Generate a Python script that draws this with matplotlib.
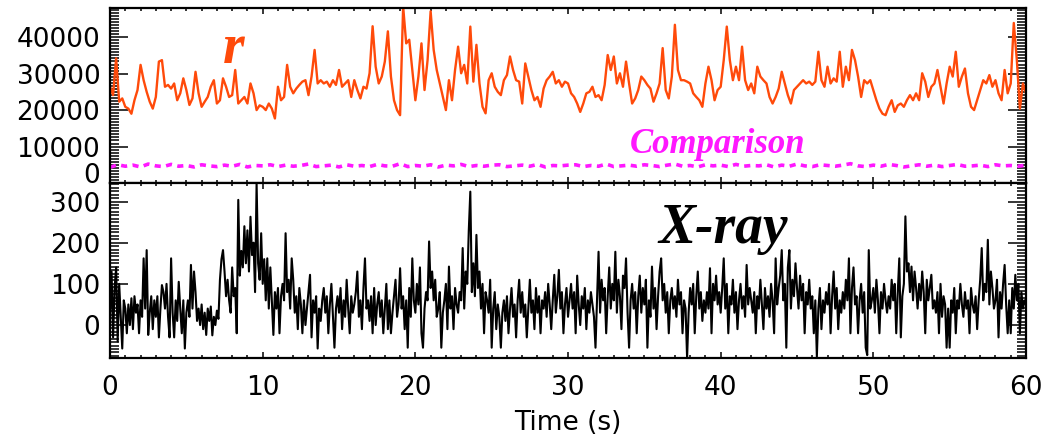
import numpy as np
import matplotlib
matplotlib.use("Agg")
import matplotlib.pyplot as plt
from matplotlib.ticker import MultipleLocator, FixedLocator

# ---------------------------------------------------------------
# Light curves, 0 - 60 s
# ---------------------------------------------------------------
# r-band count rate, one sample every 0.2 s
r_rate = [
    26400, 24100, 34200, 22300, 23200,
    20900, 20400, 19000, 22700, 25500,
    32400, 28200, 25000, 22300, 20400,
    23600, 33300, 33700, 26400, 26900,
    25900, 27300, 22700, 24600, 28700,
    25500, 21400, 23200, 30500, 24600,
    20900, 22300, 23600, 26400, 28200,
    21800, 22700, 28700, 26400, 23600,
    24100, 31000, 21800, 22700, 23600,
    21800, 27300, 24600, 20000, 21300,
    20900, 20000, 21800, 20400, 17700,
    26400, 22700, 23600, 32400, 26400,
    24600, 25900, 26900, 27800, 28200,
    24100, 29200, 36500, 27300, 28200,
    27300, 27800, 26400, 28200, 26900,
    31000, 26400, 27300, 28200, 23600,
    28200, 25500, 23200, 26400, 25900,
    30100, 43000, 31900, 27300, 29200,
    33300, 41600, 29200, 22700, 20000,
    18600, 48400, 38300, 39300, 31000,
    22700, 29200, 38300, 25500, 33700,
    47100, 36500, 31000, 27300, 23600,
    20000, 28200, 22700, 31000, 37400,
    30100, 32400, 27300, 42900, 27800,
    37900, 27300, 20900, 19100, 28200,
    30100, 26400, 25000, 24100, 28200,
    29600, 34700, 31000, 28200, 27800,
    21800, 32800, 29200, 25500, 22700,
    23600, 20900, 25900, 28200, 29200,
    30500, 27300, 28200, 26400, 27800,
    27300, 24600, 23600, 21800, 19500,
    21800, 24600, 25000, 26400, 23600,
    24100, 22700, 26900, 35100, 31000,
    34700, 27300, 30100, 26400, 33300,
    27300, 21800, 23200, 25500, 29200,
    28200, 26900, 25900, 22300, 24600,
    27300, 37000, 25500, 23200, 29200,
    43400, 31000, 28200, 28200, 27800,
    27300, 24600, 23600, 22700, 20900,
    27300, 31900, 28200, 22700, 25500,
    26400, 33700, 42900, 33700, 28200,
    31900, 28200, 37400, 28200, 25500,
    27300, 24600, 31900, 29200, 28200,
    27300, 23600, 21800, 23600, 25900,
    30500, 27300, 24100, 21800, 25500,
    26400, 27300, 28200, 27300, 27800,
    26900, 27800, 36000, 28200, 26400,
    31900, 27300, 28700, 27800, 36000,
    26400, 31900, 28200, 36500, 33700,
    29200, 23600, 28200, 27300, 28200,
    25500, 22700, 20400, 19000, 18600,
    20900, 22700, 19500, 21300, 21800,
    20900, 22700, 24100, 22700, 24600,
    22700, 30100, 27800, 23600, 26400,
    27300, 31000, 26400, 21800, 27300,
    31900, 29200, 36000, 26400, 29200,
    31400, 24600, 20900, 20000, 22700,
    25500, 28200, 27300, 29600, 26400,
    28200, 24600, 22700, 31000, 24600,
    27300, 43900, 33700, 20400, 27300,
    24600,
]

# comparison star, one sample every 0.5 s
comp_rate = [
    4300, 5000, 4600, 4900, 4400, 5200, 4700, 4500, 5100, 4600,
    4800, 4400, 5000, 4700, 4500, 4900, 4600, 5100, 4400, 4800,
    4700, 5000, 4500, 4900, 4600, 4800, 5200, 4500, 4700, 4900,
    4400, 5000, 4600, 4800, 4500, 5100, 4700, 4600, 5300, 4500,
    4800, 4600, 5000, 4400, 4900, 4700, 5100, 4500, 4800, 4600,
    4900, 5000, 4500, 4700, 4900, 4600, 5100, 4400, 4800, 4700,
    4900, 5000, 4500, 4800, 4600, 5200, 4500, 4700, 4900, 4600,
    5000, 4800, 4500, 4900, 5200, 4600, 4800, 4400, 5000, 4700,
    4900, 4500, 5100, 4600, 4800, 4700, 5000, 4400, 4900, 4600,
    5200, 4700, 4500, 5000, 4800, 4600, 4900, 5300, 4700, 4500,
    4900, 4600, 5100, 4800, 4400, 4700, 5000, 4600, 4900, 4500,
    4800, 5100, 4600, 4700, 4900, 4500, 5000, 4700, 4800, 4600,
    4900,
]

# X-ray count rate, one sample every 0.1 s (one row per second)
xray_rate = [
    30, 130, -30, 90, 140, -40, 100, 20, -57, 60,
    40, -20, 50, 0, 65, -10, 70, 30, 50, -20,
    60, 20, 162, 40, 182, -24, 30, 70, -10, 60,
    20, 70, -30, 40, 97, 80, 40, 100, 20, -30,
    162, 30, -30, 60, 10, 105, 40, -20, 60, -57,
    30, 60, 20, 146, 40, 130, 80, 10, 40, 0,
    50, -10, 30, -24, 40, 10, 45, -25, 20, 0,
    35, 15, 110, 160, 182, 130, 70, 110, 60, 30,
    140, 70, 90, -20, 304, 120, 180, 140, 240, 150,
    230, 130, 263, 170, 200, 80, 345, 150, 110, 223,
    100, 160, 60, 162, 40, 140, 60, -24, 80, 40,
    90, -20, 70, 100, 60, 223, 80, 110, 40, 162,
    110, 30, 70, -10, 90, 50, -20, 60, 0, 40,
    80, 122, -30, 60, 30, 70, -57, 40, 10, 60,
    90, 30, 70, -20, 50, 100, 20, -55, 40, 70,
    30, 90, -10, 60, 20, 110, 40, -20, 70, 30,
    50, 80, 130, 20, 60, -10, 90, 162, 40, 60,
    10, 70, -20, 90, 0, 50, 80, 20, 60, -20,
    40, 100, -10, 60, -20, 30, 70, 110, 20, 50,
    138, 40, 70, -10, 60, -55, 90, 20, 162, 60,
    30, 100, 50, 140, -20, -55, 40, 80, 60, 203,
    90, 130, 60, 110, 20, 40, 80, -55, 30, 60,
    100, -10, 142, 40, 70, -10, 90, 50, 30, 80,
    60, 187, 40, 130, 100, 230, 324, 80, 150, 70,
    219, 90, 130, 40, 100, -20, 80, 60, 30, 110,
    -55, 40, 80, -10, 50, 20, -55, 30, 60, 10,
    70, -20, 40, 90, 20, 50, -30, 60, 110, 30,
    80, 20, 50, -30, 40, 110, 30, 60, -10, 90,
    30, 70, -20, 60, 40, 80, 20, 100, 50, -10,
    60, 122, 30, 70, 134, 40, 80, -20, 50, 90,
    20, 60, 100, 40, 80, -20, 120, 50, 0, 70,
    40, 90, -10, 60, 30, 80, 50, 20, -55, 60,
    178, 30, 110, 60, 90, -20, 70, 140, 40, 100,
    60, 178, 30, 110, 70, -10, 120, 90, 162, 30,
    -55, 60, 100, 40, 80, -20, 70, 120, 30, 90,
    50, 110, -55, 60, 20, 142, 40, 90, -10, 70,
    130, 162, 60, 100, 30, 80, -20, 60, 90, 40,
    70, 20, 110, 50, 80, -20, 60, 40, -80, 30,
    90, 50, 100, -20, 70, 130, 40, 80, 10, 60,
    30, 80, 40, 138, -20, 100, 60, 120, 50, 80,
    30, 90, 162, 40, 100, -20, 70, 50, 110, 30,
    80, -10, 60, 100, 40, 70, 20, 146, 50, 90,
    60, 30, 80, -20, 70, 40, 110, 50, -10, 90,
    40, 70, 20, 100, 60, -20, 162, 50, 90, 120,
    182, 60, 100, -55, 140, 182, 40, 110, 70, 150,
    90, 40, 120, 60, 100, -20, 80, 50, 110, 40,
    70, -20, 60, -77, 40, 90, -10, 60, 30, 80,
    50, 100, -20, 70, 130, 40, 90, -10, 60, 30,
    80, 40, 110, 60, 162, -20, 90, 140, 50, 70,
    -20, 60, 100, 30, 80, -55, -73, 182, 40, 60,
    90, 30, 110, 60, -20, 80, 40, 100, 60, 30,
    70, 40, 110, 60, 100, -20, 80, 162, -30, 70,
    100, 264, 130, 150, 80, 142, 60, 130, 90, 40,
    100, 60, 130, 80, -20, 110, 60, 90, 122, 40,
    60, 30, 80, -20, 100, 20, 70, 50, -55, 40,
    -55, 60, 30, 90, -20, 60, 40, 100, 50, 20,
    80, 40, 60, -20, 90, 50, 30, 70, -10, 60,
    110, 187, 60, 100, 80, 207, 50, 130, 90, 40,
    60, 110, -30, 80, 40, 100, 146, 50, -20, 60,
    -20, 90, 40, 122, 60, 100, -20, 80, 40, 60,
    50,
]

r_time = np.linspace(0, 60, len(r_rate))
comp_time = np.linspace(0, 60, len(comp_rate))
xray_time = np.linspace(0, 60, len(xray_rate))

R_COLOR = "#ff4a0a"
COMP_COLOR = "#ff18ff"

plt.rcParams["font.family"] = ["DejaVu Sans"]
plt.rcParams["font.size"] = 19

fig = plt.figure(figsize=(10.43, 4.40), dpi=100)
ax_top = fig.add_axes([0.1055, 0.5841, 0.8782, 0.3977])
ax_bot = fig.add_axes([0.1055, 0.1864, 0.8782, 0.3977], sharex=ax_top)

ax_top.plot(r_time, r_rate, color=R_COLOR, lw=1.7)
ax_top.plot(comp_time, comp_rate, color=COMP_COLOR, lw=2.6,
            linestyle=(0, (1.7, 1.5)))
ax_bot.plot(xray_time, xray_rate, color="black", lw=1.5)

ax_top.set_xlim(0, 60)
ax_top.set_ylim(0, 48000)
ax_bot.set_ylim(-80, 345)

ax_top.yaxis.set_major_locator(FixedLocator([0, 10000, 20000, 30000, 40000]))
ax_top.yaxis.set_minor_locator(MultipleLocator(10000 / 12))
ax_bot.yaxis.set_major_locator(FixedLocator([0, 100, 200, 300]))
ax_bot.yaxis.set_minor_locator(MultipleLocator(100 / 12))

for ax in (ax_top, ax_bot):
    ax.xaxis.set_major_locator(MultipleLocator(10))
    ax.xaxis.set_minor_locator(MultipleLocator(1))
    for s in ax.spines.values():
        s.set_linewidth(1.6)
    ax.tick_params(axis="both", which="both", direction="in",
                   top=True, bottom=True, left=True, right=True,
                   width=1.1, colors="black")
    ax.tick_params(axis="y", which="major", length=13, pad=7, labelsize=19)
    ax.tick_params(axis="y", which="minor", length=6.5, width=1.1)
    ax.tick_params(axis="x", which="major", length=4.5, pad=12, labelsize=19)
    ax.tick_params(axis="x", which="minor", length=2.3)

ax_top.tick_params(axis="x", labelbottom=False)
ax_bot.set_xlabel("Time (s)", fontsize=19, labelpad=7)

serif = ["Liberation Serif", "DejaVu Serif"]
ax_top.text(8.1, 32900, "r", color=R_COLOR, fontsize=40, family=serif,
            weight="bold", style="italic", ha="center", va="baseline")
ax_top.text(34.05, 8100, "Comparison", color=COMP_COLOR, fontsize=25,
            family=serif, weight="bold", style="italic",
            ha="left", va="baseline")
ax_bot.text(35.9, 200, "X-ray", color="black", fontsize=40, family=serif,
            weight="bold", style="italic", ha="left", va="baseline")

fig.canvas.draw()
# the zero label of the upper panel sits on its baseline
ax_top.get_yticklabels()[0].set_verticalalignment("baseline")

fig.savefig("out.png", dpi=100)
